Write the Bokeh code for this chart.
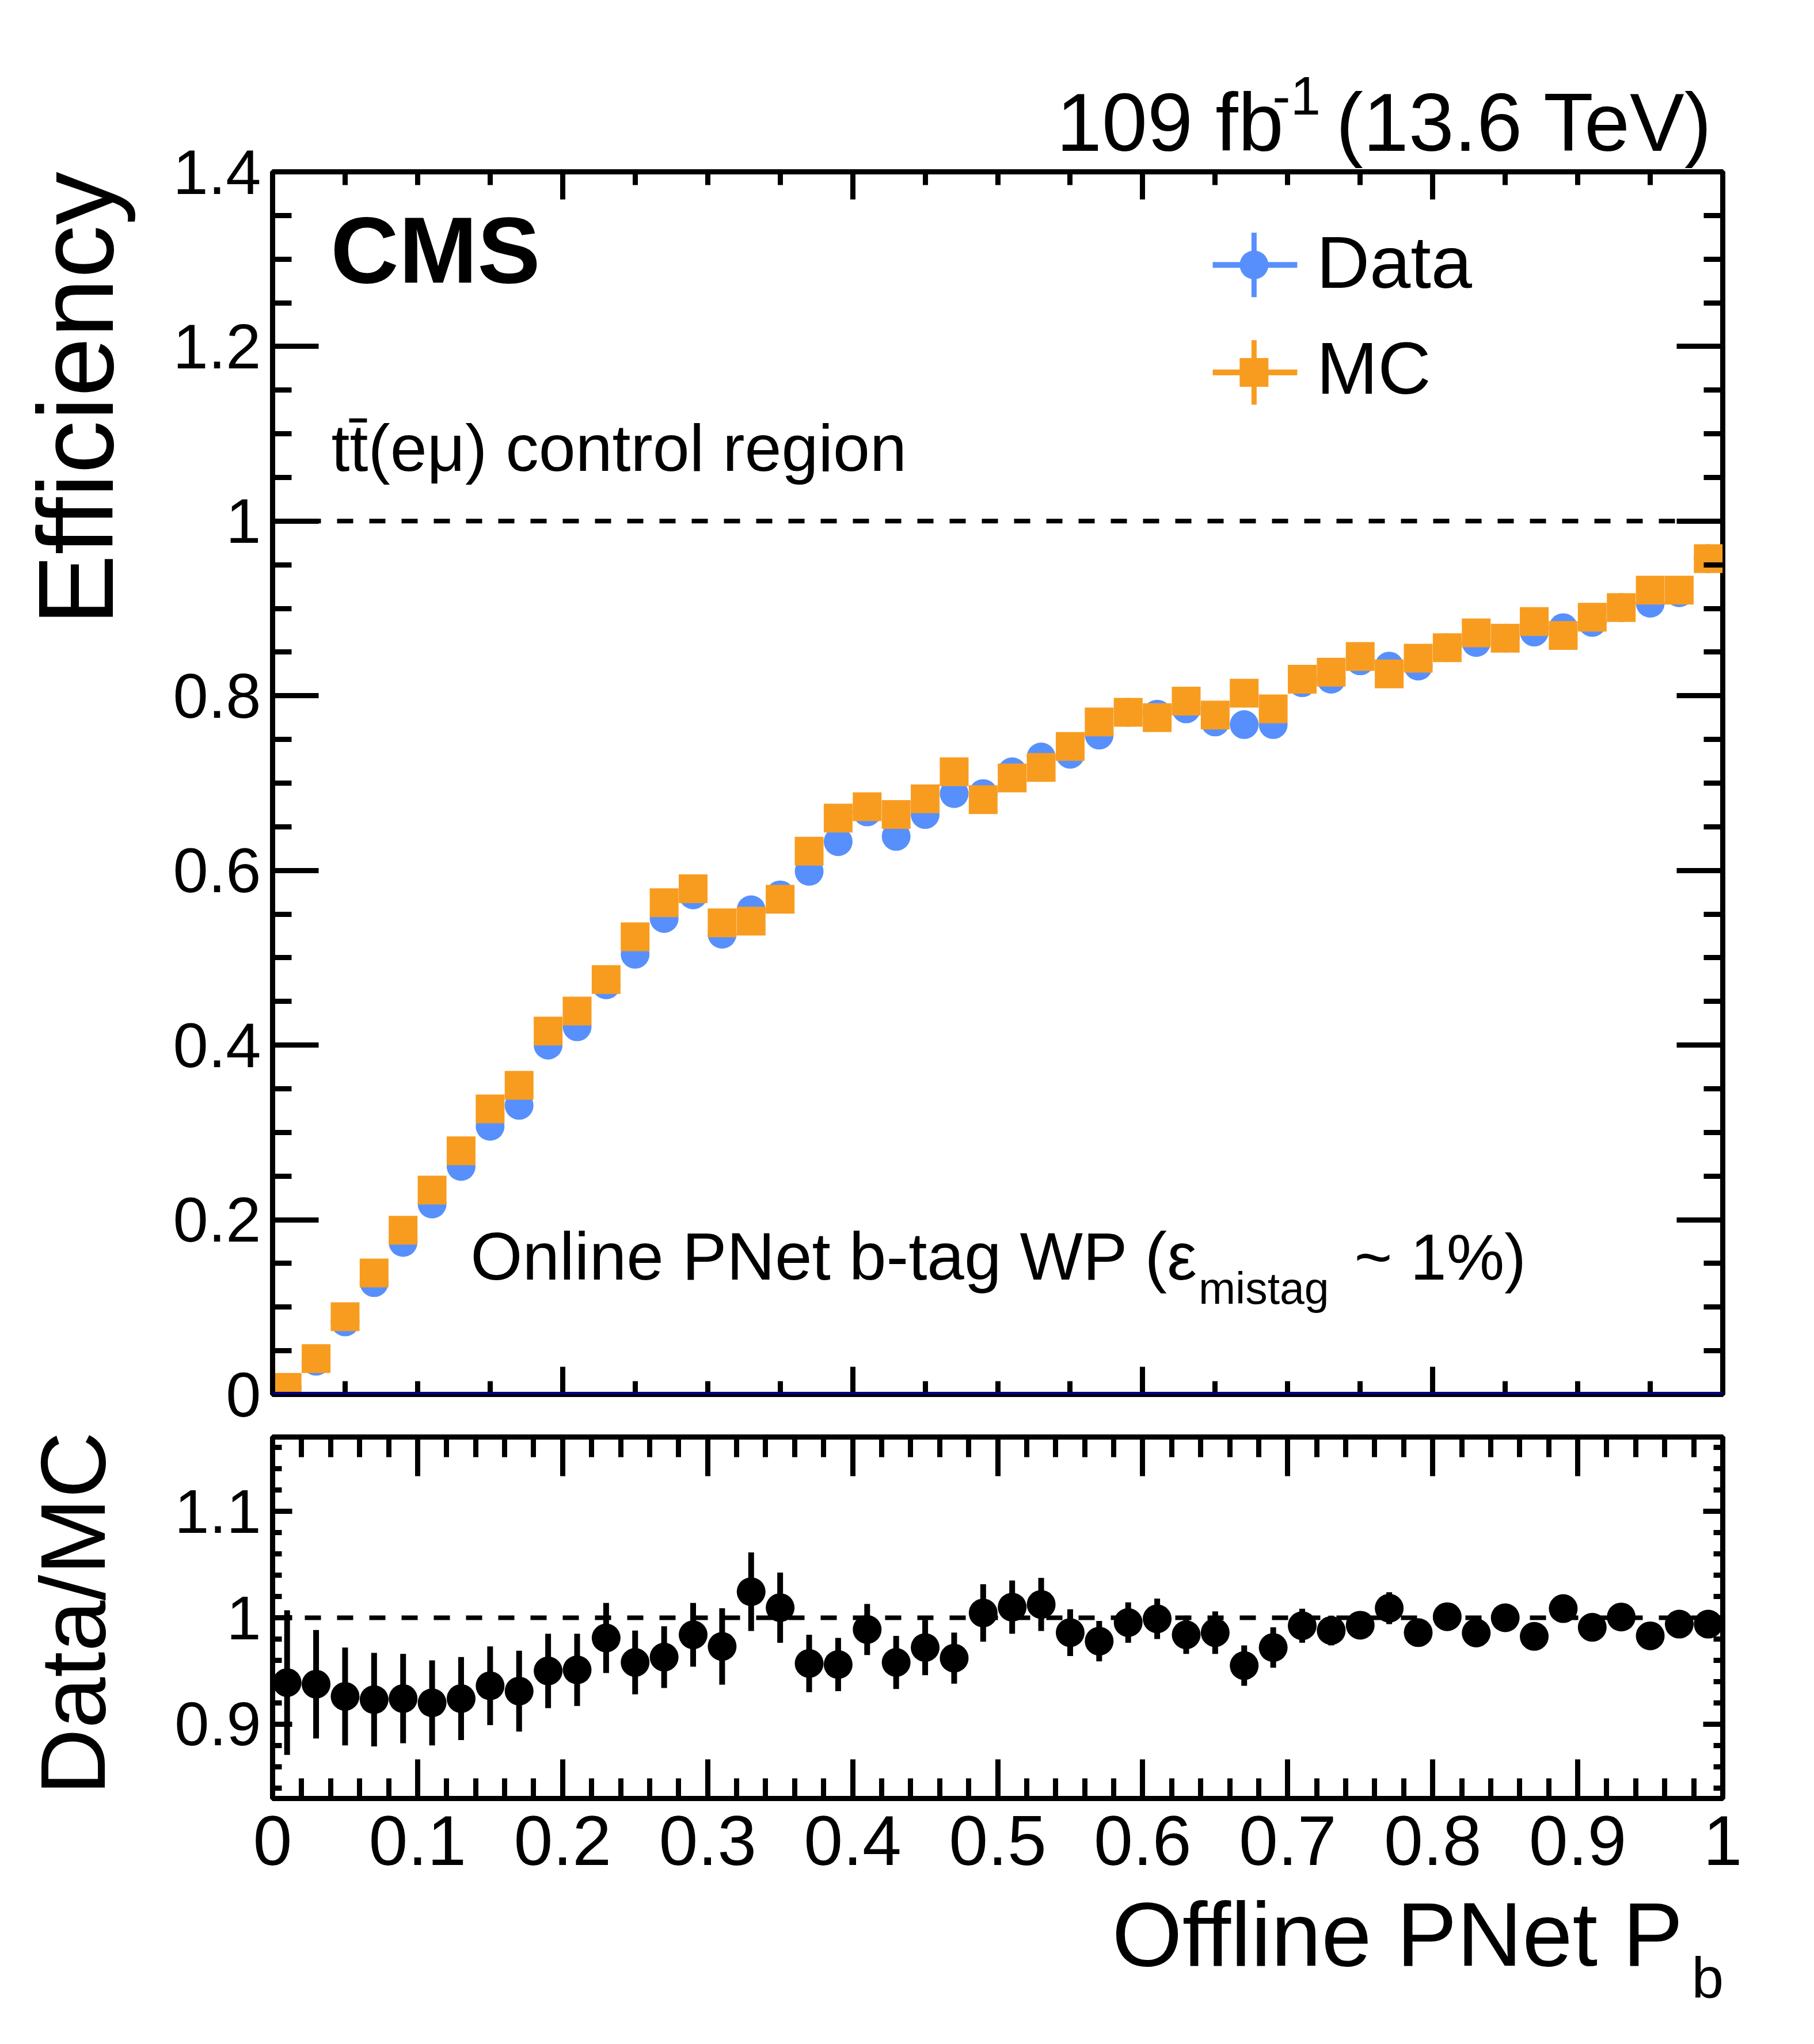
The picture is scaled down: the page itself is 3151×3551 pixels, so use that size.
import math
from bokeh.plotting import figure
from bokeh.models import (LinearAxis, FixedTicker, CustomJSTickFormatter, Label, Span)
from bokeh.layouts import column
from bokeh.embed import file_html
from bokeh.resources import INLINE

# ---------------- data ----------------
x_centers = [0.01, 0.03, 0.05, 0.07, 0.09, 0.11, 0.13, 0.15, 0.17, 0.19,
             0.21, 0.23, 0.25, 0.27, 0.29, 0.31, 0.33, 0.35, 0.37, 0.39,
             0.41, 0.43, 0.45, 0.47, 0.49, 0.51, 0.53, 0.55, 0.57, 0.59,
             0.61, 0.63, 0.65, 0.67, 0.69, 0.71, 0.73, 0.75, 0.77, 0.79,
             0.81, 0.83, 0.85, 0.87, 0.89, 0.91, 0.93, 0.95, 0.97, 0.99]

data_eff = [0.007, 0.038, 0.083, 0.128, 0.174, 0.218, 0.261, 0.307, 0.331, 0.400,
            0.421, 0.469, 0.504, 0.545, 0.572, 0.527, 0.555, 0.572, 0.599, 0.633,
            0.667, 0.639, 0.664, 0.688, 0.688, 0.713, 0.730, 0.733, 0.755, 0.781,
            0.779, 0.785, 0.770, 0.767, 0.767, 0.815, 0.819, 0.840, 0.834, 0.834,
            0.855, 0.861, 0.866, 0.873, 0.878, 0.884, 0.901, 0.906, 0.918, 0.957]

mc_eff = [0.008, 0.041, 0.089, 0.139, 0.188, 0.234, 0.279, 0.327, 0.354, 0.416,
          0.439, 0.475, 0.524, 0.563, 0.579, 0.540, 0.542, 0.567, 0.622, 0.660,
          0.673, 0.664, 0.682, 0.713, 0.681, 0.706, 0.718, 0.742, 0.770, 0.781,
          0.775, 0.794, 0.778, 0.803, 0.785, 0.819, 0.827, 0.845, 0.825, 0.843,
          0.855, 0.872, 0.866, 0.885, 0.869, 0.890, 0.901, 0.921, 0.921, 0.957]

ratio = [0.939, 0.9375, 0.926, 0.923, 0.924, 0.920, 0.924, 0.936, 0.931, 0.950,
         0.951, 0.981, 0.958, 0.963, 0.984, 0.973, 1.0245, 1.0095, 0.957, 0.956,
         0.989, 0.958, 0.972, 0.962, 1.0045, 1.010, 1.0125, 0.986, 0.978, 0.9955,
         0.999, 0.984, 0.986, 0.955, 0.972, 0.9925, 0.988, 0.993, 1.009, 0.986,
         1.001, 0.9857, 1.000, 0.9825, 1.0086, 0.991, 1.0007, 0.983, 0.994, 0.994]

ratio_err = [0.068, 0.051, 0.046, 0.044, 0.042, 0.040, 0.039, 0.037, 0.038, 0.035,
             0.034, 0.033, 0.030, 0.029, 0.030, 0.036, 0.037, 0.033, 0.027, 0.025,
             0.024, 0.025, 0.026, 0.024, 0.027, 0.025, 0.025, 0.022, 0.019, 0.019,
             0.019, 0.018, 0.020, 0.019, 0.019, 0.016, 0.014, 0.012, 0.015, 0.012,
             0.012, 0.012, 0.012, 0.012, 0.011, 0.011, 0.011, 0.011, 0.010, 0.010]

top_x_major = [0.0, 0.2, 0.4, 0.6, 0.8, 1.0]
top_x_minor = [0.05, 0.1, 0.15, 0.25, 0.3, 0.35, 0.45, 0.5, 0.55, 0.65, 0.7, 0.75, 0.85, 0.9, 0.95]
top_y_major = [0.0, 0.2, 0.4, 0.6, 0.8, 1.0, 1.2, 1.4]
top_y_minor = [0.05, 0.1, 0.15, 0.25, 0.3, 0.35, 0.45, 0.5, 0.55, 0.65, 0.7, 0.75,
               0.85, 0.9, 0.95, 1.05, 1.1, 1.15, 1.25, 1.3, 1.35]
bot_x_major = [0.0, 0.1, 0.2, 0.3, 0.4, 0.5, 0.6, 0.7, 0.8, 0.9, 1.0]
bot_x_minor = [0.02, 0.04, 0.06, 0.08, 0.12, 0.14, 0.16, 0.18, 0.22, 0.24, 0.26, 0.28,
               0.32, 0.34, 0.36, 0.38, 0.42, 0.44, 0.46, 0.48, 0.52, 0.54, 0.56, 0.58,
               0.62, 0.64, 0.66, 0.68, 0.72, 0.74, 0.76, 0.78, 0.82, 0.84, 0.86, 0.88,
               0.92, 0.94, 0.96, 0.98]
bot_y_major = [0.9, 1.0, 1.1]
bot_y_minor = [0.84, 0.86, 0.88, 0.92, 0.94, 0.96, 0.98, 1.02, 1.04, 1.06, 1.08,
               1.12, 1.14, 1.16]

BLUE = "#5790fc"
ORANGE = "#f89c20"
FONT = "Liberation Sans"

# layout (pixels)
FW, FH1, FH2 = 2519, 2124, 628
BL, BR = 473, 143
BT1, BB1 = 298, 60
BT2, BB2 = 14, 416
Y1 = (0.0, 1.4)
Y2 = (0.83, 1.17)
PPX = FW / 1.0
PPY1 = FH1 / (Y1[1] - Y1[0])
PPY2 = FH2 / (Y2[1] - Y2[0])
SHIFT = 0.36  # em offset of rendered baseline, compensated below

fmt_code = """
var r = Math.round(tick);
if (Math.abs(tick - r) < 1e-9) { return r.toFixed(0); }
return tick.toFixed(1);
"""


def add_axis(p, side, major, minor, major_len, minor_len, label_size=None, standoff=0):
    ax = LinearAxis(ticker=FixedTicker(ticks=major, minor_ticks=minor),
                    formatter=CustomJSTickFormatter(code=fmt_code))
    ax.axis_line_color = None
    ax.major_tick_in = major_len
    ax.major_tick_out = 0
    ax.minor_tick_in = minor_len
    ax.minor_tick_out = 0
    ax.major_tick_line_width = 9
    ax.minor_tick_line_width = 9
    ax.major_tick_line_color = "black"
    ax.minor_tick_line_color = "black"
    ax.major_label_text_font = FONT
    ax.major_label_text_color = "black"
    if label_size is None:
        ax.major_label_text_font_size = "0px"
        ax.major_label_standoff = 0
        ax.major_label_text_alpha = 0
    else:
        ax.major_label_text_font_size = f"{label_size}px"
        ax.major_label_standoff = standoff
    p.add_layout(ax, side)
    return ax


def label(p, ppy, x, y, text, size, align="left", bold=False, rotated=False, place=None):
    # x, y: wanted baseline anchor in data units
    if rotated:
        x = x - SHIFT * size / PPX
        angle = math.pi / 2
    else:
        y = y + SHIFT * size / ppy
        angle = 0.0
    lab = Label(x=x, y=y, x_units="data", y_units="data", text=text,
                text_font=FONT, text_font_size=f"{size}px", text_align=align,
                text_baseline="alphabetic", text_color="black", angle=angle,
                text_font_style="bold" if bold else "normal")
    if place is None:
        p.add_layout(lab)
    else:
        p.add_layout(lab, place)
    return lab


def base_fig(fh, yr, bt, bb):
    p = figure(frame_width=FW, frame_height=fh, x_range=(0, 1), y_range=yr,
               x_axis_location=None, y_axis_location=None,
               min_border_left=BL, min_border_right=BR, min_border_top=bt, min_border_bottom=bb,
               output_backend="svg", toolbar_location=None)
    p.grid.grid_line_color = None
    p.outline_line_color = "black"
    p.outline_line_width = 9
    p.background_fill_color = "white"
    p.border_fill_color = "white"
    return p


# ---------------- top panel ----------------
p1 = base_fig(FH1, Y1, BT1, BB1)
add_axis(p1, "below", top_x_major, top_x_minor, 48, 23)
add_axis(p1, "above", top_x_major, top_x_minor, 48, 23)
add_axis(p1, "left", top_y_major, top_y_minor, 80, 33, label_size=110, standoff=20)
add_axis(p1, "right", top_y_major, top_y_minor, 80, 33)

p1.add_layout(Span(location=1.0, dimension="width", line_color="black",
                   line_width=8, line_dash="28 28"))
p1.add_layout(Span(location=0.0, dimension="width", line_color="#000090", line_width=8))

p1.scatter(x_centers, data_eff, marker="circle", size=50, fill_color=BLUE, line_color=None)
p1.scatter(x_centers, mc_eff, marker="square", size=50, fill_color=ORANGE, line_color=None)

# legend (drawn by hand, ROOT style)
leg_x = 0.6768
leg_y = [1.2934, 1.1703]
leg_col = [BLUE, ORANGE]
leg_mark = ["circle", "square"]
leg_txt = ["Data", "MC"]
leg_base = [1.2662, 1.1446]
for yy, cc, mm, tt, bb in zip(leg_y, leg_col, leg_mark, leg_txt, leg_base):
    p1.segment(x0=[0.6483], y0=[yy], x1=[0.7066], y1=[yy], line_color=cc, line_width=10)
    p1.segment(x0=[leg_x], y0=[yy - 0.0369], x1=[leg_x], y1=[yy + 0.0369], line_color=cc, line_width=9)
    p1.scatter([leg_x], [yy], marker=mm, size=50, fill_color=cc, line_color=None)
    label(p1, PPY1, 0.7198, bb, tt, 128)

label(p1, PPY1, 0.0400, 1.2717, "CMS", 164, bold=True)
label(p1, PPY1, 0.0405, 1.0569, "t" + "t\u0304" + "(e\u03bc) control region", 115)
label(p1, PPY1, 0.1365, 0.1305, "Online PNet b-tag WP (\u03b5", 116)
label(p1, PPY1, 0.6385, 0.1035, "mistag", 77)
label(p1, PPY1, 0.7459, 0.1305, "~ 1%)", 113)

label(p1, PPY1, 0.9933, 1.4231, "109 fb\u00a0\u00a0\u200a(13.6 TeV)", 142, align="right", place="above")
label(p1, PPY1, 0.6895, 1.4646, "-1", 94, place="right")

label(p1, PPY1, -0.1090, 1.40, "Efficiency", 185, align="right", rotated=True, place="left")

# ---------------- ratio panel ----------------
p2 = base_fig(FH2, Y2, BT2, BB2)
add_axis(p2, "below", bot_x_major, bot_x_minor, 68, 35, label_size=122, standoff=30)
add_axis(p2, "above", bot_x_major, bot_x_minor, 68, 35)
add_axis(p2, "left", bot_y_major, bot_y_minor, 34, 16, label_size=108, standoff=20)
add_axis(p2, "right", bot_y_major, bot_y_minor, 34, 16)

p2.add_layout(Span(location=1.0, dimension="width", line_color="black",
                   line_width=8, line_dash="28 28"))

lo = [r - e for r, e in zip(ratio, ratio_err)]
hi = [r + e for r, e in zip(ratio, ratio_err)]
p2.segment(x0=x_centers, y0=lo, x1=x_centers, y1=hi, line_color="black", line_width=10)
p2.scatter(x_centers, ratio, marker="circle", size=50, fill_color="black", line_color=None)

label(p2, PPY2, -0.1149, 1.175, "Data/MC", 160, align="right", rotated=True, place="left")
label(p2, PPY2, 0.9726, 0.6714, "Offline PNet P", 157, align="right", place="below")
label(p2, PPY2, 0.9786, 0.6416, "b", 100, place="right")

layout = column(p1, p2, spacing=0)
open("out.html", "w").write(file_html(layout, INLINE))
